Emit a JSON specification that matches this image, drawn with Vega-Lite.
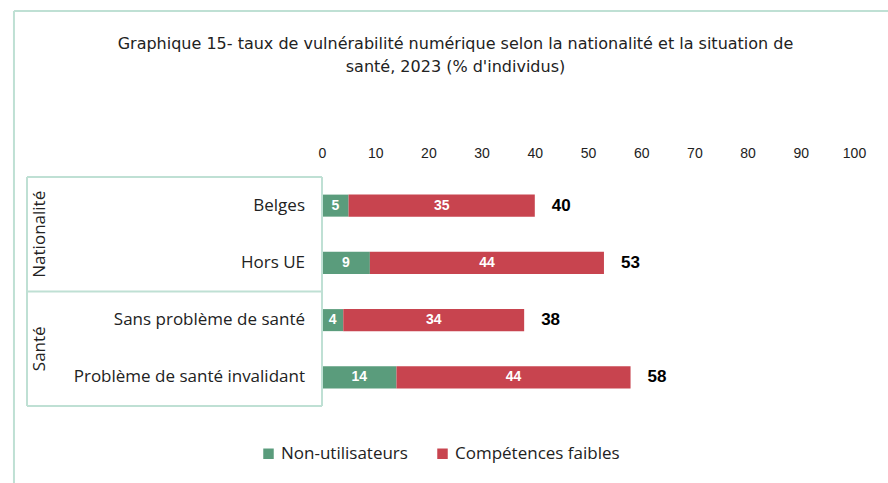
{
  "$schema": "https://vega.github.io/schema/vega-lite/v6.json",
  "autosize": {"type": "none"},
  "padding": {"left": 27, "top": 177, "right": 34, "bottom": 77},
  "width": 827,
  "height": 229,
  "background": "white",
  "title": {
    "text": ["Graphique 15- taux de vulnérabilité numérique selon la nationalité et la situation de", "santé, 2023 (% d'individus)"],
    "fontSize": 16,
    "font": "DejaVu Sans",
    "fontWeight": "normal",
    "color": "#222222",
    "anchor": "middle",
    "dx": 15,
    "offset": -65,
    "lineHeight": 23
  },
  "datasets": {
    "segments": [
      {"cat": "Belges", "serie": "Non-utilisateurs", "v": 5, "ord": 1},
      {"cat": "Belges", "serie": "Compétences faibles", "v": 35, "ord": 2},
      {"cat": "Hors UE", "serie": "Non-utilisateurs", "v": 9, "ord": 1},
      {"cat": "Hors UE", "serie": "Compétences faibles", "v": 44, "ord": 2},
      {"cat": "Sans problème de santé", "serie": "Non-utilisateurs", "v": 4, "ord": 1},
      {"cat": "Sans problème de santé", "serie": "Compétences faibles", "v": 34, "ord": 2},
      {"cat": "Problème de santé invalidant", "serie": "Non-utilisateurs", "v": 14, "ord": 1},
      {"cat": "Problème de santé invalidant", "serie": "Compétences faibles", "v": 44, "ord": 2}
    ],
    "totals": [
      {"cat": "Belges", "total": 40},
      {"cat": "Hors UE", "total": 53},
      {"cat": "Sans problème de santé", "total": 38},
      {"cat": "Problème de santé invalidant", "total": 58}
    ],
    "groups": [
      {"group": "Nationalité", "first": "Belges", "second": "Hors UE"},
      {"group": "Santé", "first": "Sans problème de santé", "second": "Problème de santé invalidant"}
    ],
    "one": [{"k": 1}]
  },
  "layer": [
    {
      "data": {"name": "segments"},
      "mark": {"type": "bar", "height": {"band": 0.385}},
      "encoding": {
        "y": {
          "field": "cat",
          "type": "nominal",
          "scale": {"domain": ["Belges", "Hors UE", "Sans problème de santé", "Problème de santé invalidant"], "paddingInner": 0, "paddingOuter": 0},
          "axis": null
        },
        "x": {
          "field": "v",
          "type": "quantitative",
          "stack": "zero",
          "scale": {"domain": [-55.45, 100], "nice": false, "zero": false},
          "axis": {
            "orient": "top",
            "values": [0, 10, 20, 30, 40, 50, 60, 70, 80, 90, 100],
            "title": null,
            "grid": false,
            "domain": false,
            "ticks": false,
            "tickSize": 0,
            "labelPadding": 17,
            "labelFontSize": 14,
            "labelColor": "#222222",
            "labelFont": "Liberation Sans",
            "labelFlush": false
          }
        },
        "color": {
          "field": "serie",
          "type": "nominal",
          "scale": {"domain": ["Non-utilisateurs", "Compétences faibles"], "range": ["#5a9c7c", "#c8444f"]},
          "legend": {
            "orient": "none",
            "legendX": 233,
            "legendY": 268,
            "direction": "horizontal",
            "title": null,
            "symbolType": "square",
            "symbolSize": 110,
            "symbolStrokeWidth": 0,
            "labelFontSize": 17,
            "labelFont": "Open Sans",
            "labelColor": "#222222",
            "labelOffset": 4,
            "labelLimit": 400,
            "columnPadding": 26
          }
        },
        "order": {"field": "ord", "type": "quantitative"}
      }
    },
    {
      "data": {"name": "segments"},
      "mark": {"type": "text", "color": "white", "fontWeight": "bold", "fontSize": 14, "font": "Liberation Sans", "baseline": "middle", "align": "center"},
      "encoding": {
        "y": {"field": "cat", "type": "nominal"},
        "x": {"field": "v", "type": "quantitative", "stack": "zero", "bandPosition": 0.5},
        "text": {"field": "v", "type": "quantitative"},
        "order": {"field": "ord", "type": "quantitative"}
      }
    },
    {
      "data": {"name": "totals"},
      "mark": {"type": "text", "color": "black", "fontWeight": "bold", "fontSize": 17, "font": "Liberation Sans", "baseline": "middle", "align": "left", "dx": 17},
      "encoding": {
        "y": {"field": "cat", "type": "nominal"},
        "x": {"field": "total", "type": "quantitative"},
        "text": {"field": "total", "type": "quantitative"}
      }
    },
    {
      "data": {"name": "totals"},
      "mark": {"type": "text", "color": "#222222", "fontSize": 17, "font": "Open Sans", "baseline": "middle", "align": "right", "dx": -17},
      "encoding": {
        "y": {"field": "cat", "type": "nominal"},
        "x": {"datum": 0},
        "text": {"field": "cat", "type": "nominal"}
      }
    },
    {
      "data": {"name": "groups"},
      "mark": {"type": "text", "color": "#222222", "fontSize": 17, "font": "Open Sans", "baseline": "middle", "align": "center", "angle": 270},
      "encoding": {
        "x": {"datum": -53},
        "y": {"field": "second", "type": "nominal", "bandPosition": 0},
        "text": {"field": "group", "type": "nominal"}
      }
    },
    {
      "data": {"name": "groups"},
      "mark": {"type": "rule", "color": "#bfe0d4", "strokeWidth": 2},
      "encoding": {
        "x": {"datum": -55.45},
        "x2": {"datum": 0},
        "y": {"field": "first", "type": "nominal", "bandPosition": 0}
      }
    },
    {
      "data": {"name": "one"},
      "mark": {"type": "rule", "color": "#bfe0d4", "strokeWidth": 2},
      "encoding": {
        "x": {"datum": -55.45},
        "x2": {"datum": 0},
        "y": {"datum": "Problème de santé invalidant", "bandPosition": 1}
      }
    },
    {
      "data": {"name": "one"},
      "mark": {"type": "rule", "color": "#bfe0d4", "strokeWidth": 2},
      "encoding": {"x": {"datum": -55.45}}
    },
    {
      "data": {"name": "one"},
      "mark": {"type": "rule", "color": "#bfe0d4", "strokeWidth": 2},
      "encoding": {"x": {"datum": 0}}
    },
    {
      "data": {"name": "one"},
      "mark": {"type": "rule", "color": "#bfe0d4", "strokeWidth": 2},
      "encoding": {
        "x": {"datum": -57.9},
        "x2": {"datum": 120},
        "y": {"datum": "Belges", "bandPosition": -2.9}
      }
    },
    {
      "data": {"name": "one"},
      "mark": {"type": "rule", "color": "#bfe0d4", "strokeWidth": 2, "y2Offset": 140},
      "encoding": {
        "x": {"datum": -57.9},
        "y": {"datum": "Belges", "bandPosition": -2.9},
        "y2": {"datum": "Problème de santé invalidant"}
      }
    }
  ],
  "config": {"view": {"stroke": null}}
}
